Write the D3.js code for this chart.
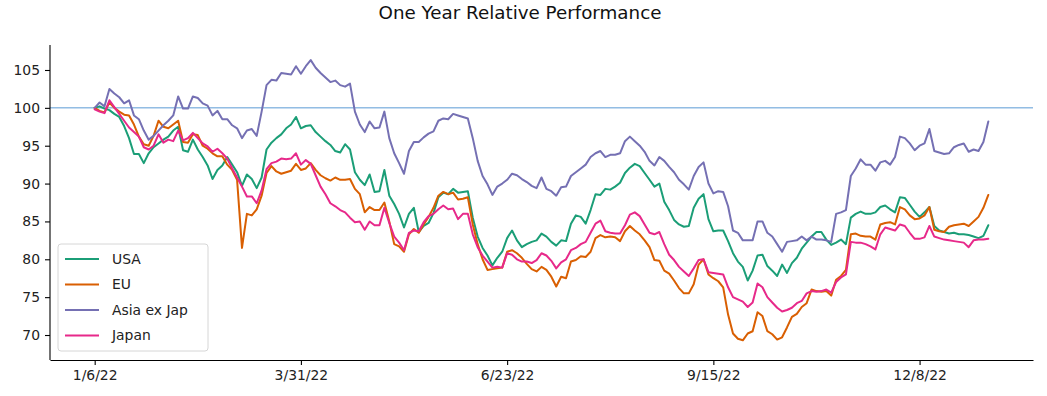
<!DOCTYPE html>
<html>
<head>
<meta charset="utf-8">
<script src="https://cdn.jsdelivr.net/npm/d3@7"></script>
<style>
  body { margin: 0; background: #fff; }
  svg { display: block; font-family: "DejaVu Sans", sans-serif; }
</style>
</head>
<body>
<svg id="chart"></svg>
<script>
const parseDate = d3.timeParse("%m/%d/%y");

// one reading every second calendar day, 1/6/22 .. 1/5/23
const dates = d3.timeDay.range(new Date(2022, 0, 6), new Date(2023, 0, 6), 2);

const usa = [
  100, 100.2, 99.9, 99.7, 99.2, 98.8, 97.6, 96.0, 93.9, 93.9,
  92.7, 94.0, 94.8, 95.3, 95.8, 96.2, 97.0, 97.5, 94.4, 94.2,
  95.8, 94.5, 93.5, 92.4, 90.6, 91.8, 92.4, 93.5, 92.5, 91.5,
  89.7, 91.2, 90.6, 89.4, 90.8, 94.5, 95.4, 96.0, 96.5, 97.3,
  97.8, 98.8, 97.3, 97.6, 97.7, 96.8, 96.2, 95.6, 95.1, 94.3,
  94.1, 95.2, 94.5, 91.5, 90.5, 89.8, 91.2, 88.9, 89.0, 91.8,
  88.4, 87.3, 86.0, 84.2, 86.0, 86.8, 83.6, 84.4, 84.8, 86.1,
  88.2, 88.8, 88.6, 89.3, 88.8, 88.9, 89.0, 85.5, 83.0, 81.5,
  80.5, 79.2, 80.2, 81.0, 82.8, 83.8, 82.5, 81.6, 82.0, 82.3,
  82.5, 83.4, 83.0, 82.3, 81.8, 82.5, 82.4, 84.7, 85.8, 85.6,
  84.7, 86.5, 88.6, 88.5, 89.3, 89.2, 89.6, 90.1, 91.4, 92.1,
  92.6, 92.3, 91.4, 90.5, 89.6, 90.0, 87.6, 86.5, 85.2, 84.6,
  84.3, 84.4, 86.8, 88.0, 88.6, 85.3, 83.7, 83.8, 83.8, 82.4,
  80.8, 79.7, 79.0, 77.2, 78.5, 80.5, 80.6, 79.1, 78.5, 77.8,
  79.3, 78.2, 79.5, 80.2, 81.4, 82.2, 83.0, 83.6, 83.6, 82.6,
  81.9, 82.2, 82.6, 82.0, 85.5, 86.0, 86.3, 86.0, 86.0, 86.2,
  86.9, 87.1, 86.6, 86.2, 88.2, 88.1, 87.2, 86.3, 85.6, 86.2,
  86.9, 84.4, 83.8, 83.6, 83.4, 83.5, 83.3, 83.3, 83.2, 83.0,
  82.8, 83.1, 84.5
];

const eu = [
  100, 99.6, 99.4, 100.7, 100.0, 99.5, 99.1, 99.0, 97.8, 96.2,
  95.2, 95.0, 96.3, 98.3, 97.5, 97.3, 97.8, 98.3, 95.5, 95.4,
  96.5, 96.4, 95.0, 94.6, 94.0, 93.6, 93.6, 92.5, 91.8, 90.5,
  81.5, 86.0, 85.8, 86.6, 88.4, 91.4, 92.3, 91.6, 91.3, 91.5,
  91.7, 92.6, 91.8, 92.0, 92.7, 91.8, 91.1, 90.7, 90.4, 90.8,
  90.5, 90.5, 90.6, 89.3, 88.6, 86.2, 86.9, 86.5, 86.5, 87.5,
  85.0, 82.0, 81.7, 81.0, 83.3, 84.0, 83.5, 84.6, 85.6, 86.8,
  88.4, 88.9, 88.6, 88.8, 87.9, 88.0, 88.2, 84.6, 82.0, 80.0,
  78.6, 78.7, 78.8, 78.9, 81.0, 81.2, 80.8, 80.2, 79.4, 78.7,
  78.4, 79.0, 78.6, 77.7, 76.4, 77.7, 77.5, 79.7, 79.9, 80.4,
  80.3, 81.0, 82.8, 83.2, 82.9, 83.0, 82.9, 82.4, 83.7, 84.4,
  83.8, 83.3, 82.5, 81.6, 79.9, 79.8, 78.5, 78.1, 77.2, 76.2,
  75.5, 75.5, 76.7, 79.3, 80.0, 78.0, 77.5, 77.1, 76.3, 72.7,
  70.2, 69.5, 69.3, 70.2, 70.5, 73.0, 72.5, 70.5, 70.1, 69.4,
  69.7, 71.0, 72.4, 72.8, 73.7, 74.2, 76.0, 75.8, 75.7, 75.8,
  75.2, 77.3, 77.8, 78.6, 83.3, 83.4, 83.1, 83.0, 83.0, 82.6,
  84.6, 84.8, 84.9, 84.6, 86.9, 86.6, 85.8, 85.3, 85.4, 85.8,
  86.9, 83.9, 83.7, 83.6, 84.3, 84.5, 84.6, 84.7, 84.4, 85.0,
  85.6, 86.8, 88.5
];

const asia = [
  100, 100.7, 100.2, 102.5, 101.9, 101.4, 100.6, 101.0, 99.0, 98.5,
  97.0, 95.8, 96.3, 97.0, 97.7, 98.3, 99.0, 101.5, 99.9, 99.9,
  101.5, 101.3, 100.6, 100.3, 99.0, 99.6, 98.5, 98.5, 97.7, 97.3,
  96.0, 97.0, 97.2, 96.3, 99.5, 103.0, 103.7, 103.6, 104.6, 104.5,
  104.4, 105.5, 104.5, 105.5, 106.3, 105.3, 104.6, 104.0, 103.4, 103.6,
  103.0, 102.8, 103.2, 99.5, 97.8, 96.8, 98.2, 97.3, 97.4, 99.5,
  96.0, 94.0, 92.7, 91.3, 94.3, 95.5, 95.5, 96.1, 96.6, 96.9,
  98.3, 98.6, 98.5, 99.2, 99.0, 98.8, 98.6, 96.0, 93.0, 91.0,
  89.9, 88.5, 89.6, 90.0, 90.5, 91.3, 91.1, 90.6, 90.2, 89.7,
  89.4, 90.8, 89.3, 89.0, 88.4, 89.5, 89.6, 91.0, 91.5, 92.0,
  92.5, 93.5, 94.0, 94.3, 93.5, 93.8, 93.8, 94.0, 95.6, 96.2,
  95.6, 95.0, 94.2, 93.0, 92.4, 93.5, 93.0, 92.2, 91.5, 90.5,
  89.9, 89.2, 91.0, 92.2, 92.8, 90.0, 88.7, 89.0, 88.9, 87.0,
  83.8, 83.5, 82.5, 82.5, 82.5, 85.0, 85.0, 83.5, 83.0, 82.0,
  81.0, 82.3, 82.4, 82.5, 83.0, 82.5, 83.0, 82.6, 82.6, 82.5,
  82.3, 86.0, 86.2, 86.5, 91.0, 92.0, 93.2, 92.5, 92.5, 91.7,
  92.8, 93.0, 92.5, 93.5, 96.2, 96.0, 95.3, 94.4, 95.0, 95.3,
  97.2, 94.3, 94.1, 93.9, 94.0, 94.8, 95.1, 95.3, 94.2, 94.5,
  94.3, 95.5, 98.2
];

const japan = [
  99.8, 99.5, 99.3, 101.0, 100.1, 99.2, 98.3, 97.4, 96.8, 96.2,
  94.8, 94.5, 95.0, 96.5, 95.4, 95.8, 95.6, 97.0, 95.7, 96.0,
  96.7, 96.0, 95.3, 94.9, 94.2, 94.6, 94.0, 93.3, 92.0, 90.8,
  89.6, 88.3, 88.3, 87.4, 89.1, 91.9, 92.7, 92.9, 93.3, 93.2,
  93.3, 94.0, 92.5, 93.1, 92.6, 91.1, 89.6, 88.6, 87.4, 87.0,
  86.5, 86.2, 85.5, 84.9, 85.0, 83.9, 85.0, 84.5, 84.5, 86.8,
  84.8, 83.0, 82.2, 81.2, 83.5, 83.8, 83.7, 84.9, 85.7, 86.0,
  86.6, 87.1, 86.6, 86.7, 85.3, 86.0, 86.0, 83.3, 81.6, 80.5,
  79.7, 78.9, 79.0, 78.9, 80.8, 80.6, 80.0, 79.7, 79.7, 79.5,
  79.9, 80.8, 80.5, 79.8, 78.8, 79.6, 80.0, 81.2, 81.5, 82.0,
  82.3, 83.5, 84.7, 85.1, 83.7, 83.5, 83.4, 83.4, 84.5, 85.9,
  86.2, 85.7, 84.6, 83.5, 83.3, 83.6, 82.0, 80.6, 79.9, 79.0,
  78.4, 77.8, 78.8, 79.9, 80.0, 78.3, 78.2, 78.1, 78.0, 76.3,
  75.0, 74.7, 74.4, 73.7, 74.3, 76.8, 76.3, 75.0, 74.3, 73.6,
  73.1, 73.3, 73.6, 74.2, 74.5, 75.5, 75.8, 75.7, 75.8, 76.0,
  75.6, 77.0, 77.6, 78.0, 82.3, 82.2, 82.2, 82.0, 81.7, 81.3,
  83.3, 84.2, 84.0, 83.8, 84.6, 84.4, 83.5, 82.7, 82.7, 82.9,
  84.4, 83.0, 82.8, 82.6, 82.5, 82.4, 82.3, 82.2, 81.6, 82.5,
  82.6, 82.6, 82.7
];

const seriesNames = ["USA", "EU", "Asia ex Jap", "Japan"];
const seriesColors = ["#1b9e77", "#d95f02", "#7570b3", "#e7298a"];
const yTicks = [70, 75, 80, 85, 90, 95, 100, 105];
const xTickLabels = ["1/6/22", "3/31/22", "6/23/22", "9/15/22", "12/8/22"];
const baseline = 100;
const title = "One Year Relative Performance";

const width = 1047, height = 396;
const margin = { top: 45, right: 14, bottom: 36, left: 50 };

const series = [usa, eu, asia, japan].map((vals, k) => ({
  name: seriesNames[k],
  color: seriesColors[k],
  values: vals.map((v, i) => ({ date: dates[i], value: v }))
}));

const svg = d3.select("#chart")
  .attr("width", width)
  .attr("height", height);

// pad the date range by 5% on both sides, like matplotlib does
const [d0, d1] = d3.extent(dates);
const span = d1 - d0;
const x = d3.scaleTime()
  .domain([new Date(+d0 - span * 0.05), new Date(+d1 + span * 0.05)])
  .range([margin.left, width - margin.right]);

const y = d3.scaleLinear()
  .domain([66.7, 108.3])
  .range([height - margin.bottom, margin.top]);

svg.append("text")
  .attr("x", 520)
  .attr("y", 18.5)
  .attr("text-anchor", "middle")
  .attr("font-size", 18.3)
  .attr("fill", "#111")
  .text(title);

// reference line at 100
svg.append("line")
  .attr("x1", margin.left)
  .attr("x2", width - margin.right)
  .attr("y1", y(baseline))
  .attr("y2", y(baseline))
  .attr("stroke", "#5b9bd5")
  .attr("stroke-width", 1);

const line = d3.line()
  .x(d => x(d.date))
  .y(d => y(d.value));

svg.append("g")
  .selectAll("path")
  .data(series)
  .join("path")
    .attr("fill", "none")
    .attr("stroke", d => d.color)
    .attr("stroke-width", 2)
    .attr("stroke-linejoin", "round")
    .attr("stroke-linecap", "round")
    .attr("d", d => line(d.values));

// axes
const yAxis = svg.append("g")
  .attr("transform", `translate(${margin.left},0)`)
  .call(d3.axisLeft(y).tickValues(yTicks).tickSize(5).tickPadding(5).tickSizeOuter(0));

const xAxis = svg.append("g")
  .attr("transform", `translate(0,${height - margin.bottom})`)
  .call(d3.axisBottom(x)
    .tickValues(xTickLabels.map(parseDate))
    .tickFormat(d3.timeFormat("%-m/%-d/%y"))
    .tickSize(5).tickPadding(5).tickSizeOuter(0));

for (const ax of [yAxis, xAxis]) {
  ax.attr("font-family", "DejaVu Sans, sans-serif").attr("font-size", 13.9);
  ax.select(".domain").attr("stroke", "#000").attr("stroke-width", 1.1);
  ax.selectAll(".tick line").attr("stroke", "#000").attr("stroke-width", 1.1);
  ax.selectAll(".tick text").attr("fill", "#222");
}
yAxis.select(".domain").attr("d", `M0,${y.range()[1]}V${y.range()[0]}`);

// legend
const legend = svg.append("g")
  .attr("transform", "translate(58,244)");

legend.append("rect")
  .attr("width", 150)
  .attr("height", 107)
  .attr("rx", 3)
  .attr("fill", "#fff")
  .attr("fill-opacity", 0.8)
  .attr("stroke", "#d6d6d6");

const item = legend.selectAll("g.item")
  .data(series)
  .join("g")
    .attr("class", "item")
    .attr("transform", (_d, i) => `translate(0,${15 + i * 25.5})`);

item.append("line")
  .attr("x1", 7)
  .attr("x2", 41)
  .attr("stroke", d => d.color)
  .attr("stroke-width", 2);

item.append("text")
  .attr("x", 54)
  .attr("dy", "0.35em")
  .attr("font-size", 13.9)
  .attr("fill", "#222")
  .text(d => d.name);
</script>
</body>
</html>
